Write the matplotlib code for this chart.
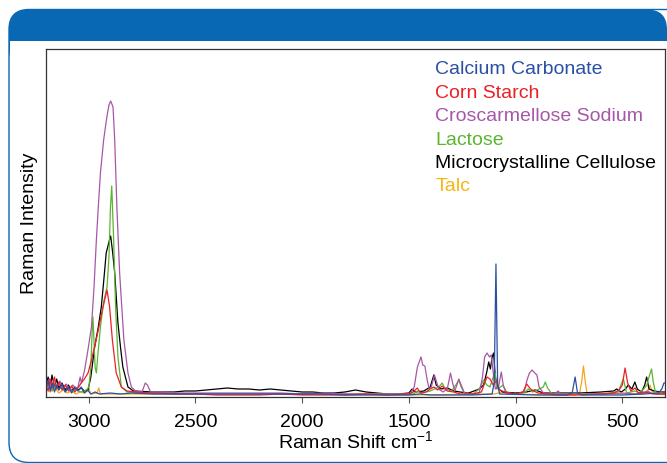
import matplotlib
matplotlib.use("Agg")
import matplotlib.pyplot as plt
from matplotlib.patches import FancyBboxPatch, Rectangle

plt.rcParams["font.family"] = ["Liberation Sans", "DejaVu Sans"]
plt.rcParams["mathtext.fontset"] = "custom"
plt.rcParams["mathtext.rm"] = "Liberation Sans"

# spectra: (wavenumber, intensity) pairs, arbitrary units
calcium_wn = [3200, 3190, 3180, 3170, 3160, 3150, 3140, 3125, 3110, 3095, 3080, 3065, 3050, 3035,
              3020, 3005, 2990, 2970, 2950, 2900, 2850, 2800, 2700, 2600, 2500, 2400, 2300, 2200,
              2100, 2000, 1900, 1800, 1700, 1600, 1500, 1450, 1400, 1200, 1110, 1100, 1092, 1084,
              1075, 900, 760, 735, 721, 710, 690, 500, 400, 330, 315, 305, 300]
calcium_int = [8, 16, 6, 14, 5, 12, 7, 13, 5, 10, 4, 9, 6, 10,
               4, 7, 3, 5, 3, 4, 3, 4, 3, 3, 3, 3, 3, 3,
               3, 3, 3, 2, 2, 2, 2, 3, 2, 2, 3, 15, 133, 12,
               3, 2, 2, 4, 20, 4, 2, 2, 3, 4, 8, 14, 14]

starch_wn = [3200, 3190, 3180, 3170, 3160, 3150, 3140, 3125, 3110, 3095, 3080, 3065, 3050, 3035,
             3020, 3003, 2987, 2960, 2935, 2914, 2902, 2889, 2871, 2847, 2820, 2780, 2700, 2600,
             2500, 2400, 2300, 2200, 2100, 2000, 1900, 1800, 1700, 1600, 1500, 1480, 1461, 1445,
             1420, 1400, 1383, 1365, 1344, 1320, 1290, 1260, 1200, 1160, 1145, 1134, 1120, 1105,
             1090, 1075, 1050, 1000, 965, 948, 930, 915, 895, 850, 800, 700, 600, 540, 515, 500,
             487, 475, 460, 440, 425, 400, 370, 340, 300]
starch_int = [12, 6, 18, 9, 20, 8, 15, 7, 12, 6, 11, 5, 9, 14,
              18, 24, 37, 62, 88, 107, 90, 57, 24, 10, 6, 5, 4, 3,
              3, 2, 2, 2, 3, 2, 2, 2, 3, 2, 3, 5, 9, 4,
              5, 8, 10, 7, 11, 6, 5, 3, 3, 5, 14, 20, 18, 12,
              16, 7, 5, 3, 5, 13, 8, 6, 4, 3, 2, 2, 3, 4, 7, 12,
              29, 14, 6, 9, 4, 5, 4, 3, 3]

crosc_wn = [3200, 3185, 3175, 3165, 3150, 3135, 3120, 3105, 3090, 3075, 3060, 3050, 3040, 3034,
            3019, 3005, 2987, 2975, 2964, 2955, 2945, 2930, 2915, 2905, 2897, 2886, 2878, 2868,
            2855, 2845, 2835, 2816, 2800, 2780, 2750, 2735, 2725, 2710, 2650, 2600, 2500, 2400,
            2300, 2200, 2100, 2000, 1900, 1800, 1700, 1600, 1520, 1490, 1475, 1460, 1450, 1443,
            1435, 1425, 1415, 1405, 1395, 1380, 1370, 1360, 1340, 1320, 1305, 1295, 1285, 1275,
            1266, 1255, 1240, 1200, 1170, 1155, 1145, 1134, 1122, 1114, 1105, 1095, 1080, 1067,
            1058, 1045, 1000, 960, 945, 935, 923, 910, 900, 890, 870, 820, 800, 790, 700, 600,
            500, 440, 400, 380, 360, 300]
crosc_int = [10, 18, 8, 15, 9, 16, 8, 13, 7, 12, 9, 10, 20, 14,
             27, 45, 70, 110, 157, 190, 224, 257, 280, 292, 296, 290, 257, 190,
             124, 90, 57, 24, 10, 6, 5, 14, 12, 5, 5, 4, 4, 4,
             4, 4, 4, 3, 4, 3, 3, 3, 3, 4, 10, 30, 36, 40,
             32, 31, 18, 8, 10, 22, 15, 8, 5, 8, 24, 14, 6, 12,
             18, 12, 4, 3, 4, 20, 40, 44, 40, 42, 25, 8, 10, 25,
             12, 4, 3, 5, 18, 24, 27, 24, 22, 10, 4, 3, 6, 3, 3, 3,
             4, 3, 4, 6, 3, 3]

lactose_wn = [3200, 3185, 3170, 3155, 3140, 3125, 3110, 3095, 3080, 3060, 3040, 3020, 3005, 2998,
              2990, 2984, 2980, 2976, 2970, 2964, 2958, 2945, 2930, 2914, 2905, 2898, 2892, 2883,
              2874, 2863, 2847, 2820, 2700, 2500, 2300, 2100, 1900, 1700, 1500, 1480, 1460, 1440,
              1400, 1380, 1360, 1344, 1330, 1300, 1280, 1266, 1255, 1240, 1200, 1170, 1150, 1135,
              1120, 1105, 1095, 1088, 1070, 1060, 1040, 1000, 960, 940, 920, 890, 870, 861, 850,
              830, 700, 600, 520, 495, 480, 440, 420, 400, 385, 375, 363, 355, 345, 320, 300]
lactose_int = [8, 14, 6, 12, 7, 11, 5, 9, 6, 8, 5, 6, 8, 12,
               30, 65, 80, 60, 30, 24, 40, 70, 95, 110, 140, 190, 211, 157,
               90, 40, 10, 5, 4, 3, 3, 3, 3, 3, 3, 3, 6, 4,
               6, 8, 10, 14, 8, 6, 12, 17, 10, 4, 3, 8, 17, 12,
               10, 20, 24, 8, 10, 12, 4, 3, 4, 8, 5, 8, 10, 15, 9,
               3, 3, 3, 5, 18, 4, 6, 4, 8, 12, 20, 28, 15, 5, 4, 3]

mcc_wn = [3200, 3190, 3180, 3172, 3160, 3150, 3140, 3125, 3110, 3095, 3080, 3065, 3050, 3035,
          3020, 3003, 2990, 2972, 2955, 2941, 2930, 2918, 2905, 2897, 2888, 2878, 2863, 2850,
          2840, 2816, 2790, 2700, 2600, 2550, 2500, 2450, 2400, 2350, 2300, 2250, 2200, 2150,
          2100, 2050, 2000, 1950, 1900, 1850, 1800, 1750, 1700, 1650, 1600, 1550, 1500, 1485,
          1470, 1430, 1400, 1383, 1372, 1350, 1320, 1290, 1260, 1220, 1170, 1150, 1135, 1126,
          1118, 1110, 1103, 1095, 1080, 1060, 1000, 950, 908, 870, 800, 700, 600, 540, 527,
          505, 485, 472, 455, 441, 430, 410, 395, 386, 375, 350, 320, 300]
mcc_int = [12, 20, 8, 22, 10, 18, 9, 14, 7, 12, 6, 10, 7, 9,
           6, 7, 20, 50, 70, 90, 115, 144, 155, 161, 145, 124, 74, 48,
           30, 10, 6, 5, 5, 6, 6, 7, 8, 9, 8, 8, 7, 8,
           7, 6, 5, 5, 4, 4, 5, 7, 5, 4, 3, 3, 4, 8,
           5, 6, 10, 22, 12, 8, 9, 6, 5, 4, 8, 12, 25, 35,
           28, 40, 44, 20, 8, 5, 4, 5, 7, 4, 4, 4, 5, 6, 8,
           5, 8, 12, 8, 15, 8, 5, 12, 20, 8, 6, 5, 5]

talc_wn = [3200, 3180, 3160, 3140, 3120, 3100, 3080, 3060, 3040, 3020, 3005, 3000, 2990, 2960,
           2953, 2945, 2900, 2800, 2500, 2000, 1500, 1100, 1060, 1040, 800, 720, 700, 690, 682,
           674, 665, 500, 400, 375, 370, 362, 340, 300]
talc_int = [8, 5, 10, 4, 7, 4, 6, 3, 5, 4, 6, 9, 3, 4,
            9, 3, 3, 3, 3, 3, 2, 3, 5, 3, 2, 2, 4, 16, 31,
            16, 3, 3, 3, 8, 12, 6, 3, 3]

names = ["Calcium Carbonate", "Corn Starch", "Croscarmellose Sodium", "Lactose",
         "Microcrystalline Cellulose", "Talc"]
colors = ["#2b4fa3", "#ec2027", "#a757a8", "#5cb531", "#000000", "#f7b512"]
line_colors = ["#2b4fa3", "#ec2027", "#a757a8", "#5cb531", "#000000", "#f5a51c"]
x_ticks = [3000, 2500, 2000, 1500, 1000, 500]

spectra = {
    "Calcium Carbonate": (calcium_wn, calcium_int),
    "Corn Starch": (starch_wn, starch_int),
    "Croscarmellose Sodium": (crosc_wn, crosc_int),
    "Lactose": (lactose_wn, lactose_int),
    "Microcrystalline Cellulose": (mcc_wn, mcc_int),
    "Talc": (talc_wn, talc_int),
}
draw_order = ["Talc", "Microcrystalline Cellulose", "Lactose", "Croscarmellose Sodium",
              "Corn Starch", "Calcium Carbonate"]

W, H = 667, 463
fig = plt.figure(figsize=(W / 100, H / 100), dpi=100)

# page decoration: blue header band and rounded frame
bg = fig.add_axes([0, 0, 1, 1], zorder=0)
bg.set_xlim(0, W)
bg.set_ylim(H, 0)
bg.axis("off")
frame_blue = "#0868b4"
bg.add_patch(FancyBboxPatch((9, 9.5), 658, 60, boxstyle="round,pad=0,rounding_size=20",
                            facecolor=frame_blue, edgecolor="none"))
bg.add_patch(Rectangle((9.5, 40.5), 680, 440, facecolor="white", edgecolor="none"))
bg.add_patch(FancyBboxPatch((9, 9.5), 700, 453, boxstyle="round,pad=0,rounding_size=20",
                            facecolor="none", edgecolor=frame_blue, linewidth=1.0))

ax = fig.add_axes([46 / W, 1 - 397 / H, (665 - 46) / W, (397 - 49) / H], zorder=1)
ax.set_facecolor("white")

for name in draw_order:
    wn, inten = spectra[name]
    ax.plot(wn, inten, color=line_colors[names.index(name)], linewidth=0.9)

ax.set_xlim(3200, 300)
ax.set_ylim(0, 348)
ax.set_yticks([])
ax.set_xticks(x_ticks)
ax.set_xticklabels([str(t) for t in x_ticks], fontsize=14)
ax.tick_params(axis="x", direction="out", length=4, width=0.8, color="#555555", pad=8)
for s in ax.spines.values():
    s.set_linewidth(0.9)
    s.set_color("#333333")

ax.set_xlabel("Raman Shift cm$^{-1}$", fontsize=14, labelpad=0)
ax.set_ylabel("Raman Intensity", fontsize=14, labelpad=6)

for i, name in enumerate(names):
    ax.text(0.629, 0.94 - i * 0.0672, name, transform=ax.transAxes, color=colors[i],
            fontsize=14, va="center", ha="left")

fig.savefig("out.png", dpi=100)
